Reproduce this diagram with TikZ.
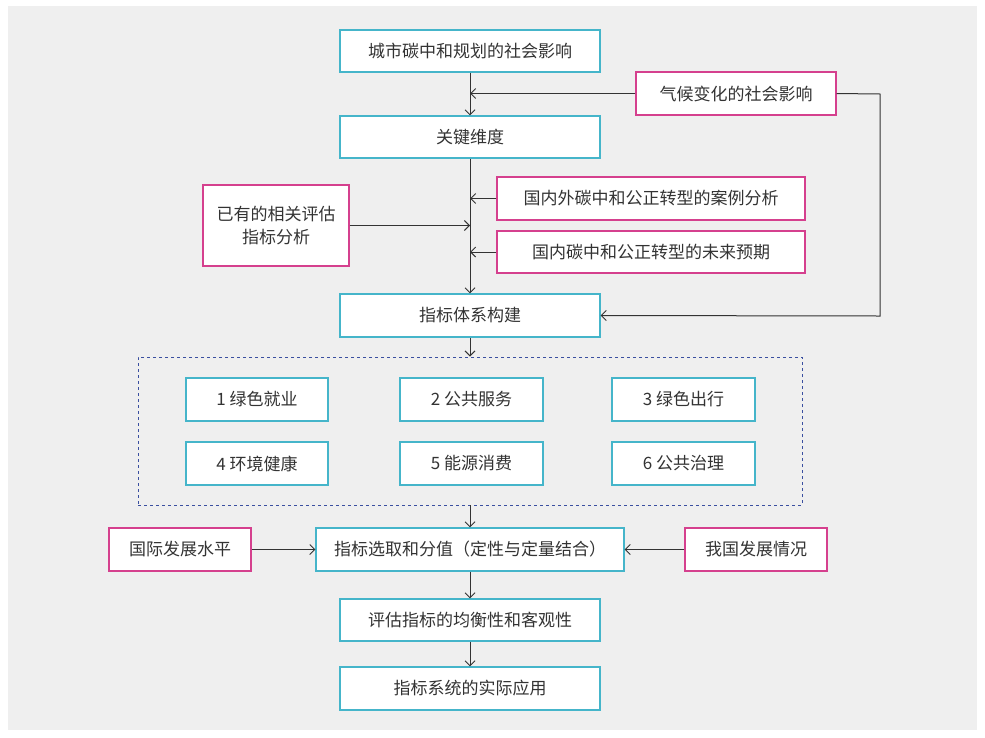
\documentclass[tikz,border=0pt]{standalone}
\usepackage{fontspec}
\setmainfont{Noto Sans CJK SC}
\usetikzlibrary{arrows.meta}
\definecolor{cy}{HTML}{45B5CA}
\definecolor{mg}{HTML}{D5408E}
\definecolor{bg}{HTML}{EFEFEF}
\definecolor{tx}{HTML}{333333}
\definecolor{dl}{HTML}{3A4FA0}
\begin{document}
\begin{tikzpicture}[x=1pt,y=-1pt,
 box/.style={draw=cy,fill=white,line width=1.1pt,text=tx,font=\fontsize{17}{20}\selectfont,inner sep=0pt,align=center},
 mbox/.style={box,draw=mg},
 ar/.style={-{Straight Barb[length=5pt,width=10pt]},line width=1pt,draw=tx}]
\useasboundingbox (0,0) rectangle (985,737);
\fill[white] (0,0) rectangle (985,737);
\fill[bg] (8,6) rectangle (977,730);
\newcommand{\bx}[6]{\node[#1,minimum width=#4-#3,minimum height=#6-#5] (#2) at ({(#3+#4)/2},{(#5+#6)/2})}
\bx{box}{a}{340}{600}{30}{72}{城市碳中和规划的社会影响};
\bx{mbox}{cl}{636}{836}{72}{115}{气候变化的社会影响};
\bx{box}{b}{340}{600}{116}{158}{关键维度};
\bx{mbox}{c1}{497}{805}{177}{220}{国内外碳中和公正转型的案例分析};
\bx{mbox}{c2}{497}{805}{231}{273}{国内碳中和公正转型的未来预期};
\bx{mbox}{ex}{203}{349}{185}{266}{已有的相关评估\\[3pt]指标分析};
\bx{box}{c}{340}{600}{294}{337}{指标体系构建};
\node[draw=dl,dashed,line width=0.8pt,minimum width=664,minimum height=148] (d) at (470,431) {};
\bx{box}{g1}{186}{328}{378}{421}{1 绿色就业};
\bx{box}{g2}{400}{543}{378}{421}{2 公共服务};
\bx{box}{g3}{612}{755}{378}{421}{3 绿色出行};
\bx{box}{g4}{186}{328}{442}{485}{4 环境健康};
\bx{box}{g5}{400}{543}{442}{485}{5 能源消费};
\bx{box}{g6}{612}{755}{442}{485}{6 公共治理};
\bx{mbox}{l}{109}{251}{528}{571}{国际发展水平};
\bx{box}{e}{316}{624}{528}{571}{指标选取和分值（定性与定量结合）};
\bx{mbox}{r}{685}{827}{528}{571}{我国发展情况};
\bx{box}{f}{340}{600}{599}{641}{评估指标的均衡性和客观性};
\bx{box}{h}{340}{600}{667}{710}{指标系统的实际应用};
\draw[ar] (a) -- (b);
\draw[ar] (cl.west) -- (cl.west -| a);
\draw[ar] (b) -- (c);
\draw[ar] (c1.west) -- (c1.west -| b);
\draw[ar] (c2.west) -- (c2.west -| b);
\draw[ar] (ex.east) -- (ex.east -| b);
\coordinate (k1) at (880,94);
\coordinate (k2) at (880,316);
\draw[ar] (cl.east) -- (k1) -- (k2) -- (c.east);
\draw[ar] (c) -- (d.north -| c);
\draw[ar] (d.south -| e) -- (e);
\draw[ar] (l) -- (e);
\draw[ar] (r) -- (e);
\draw[ar] (e) -- (f);
\draw[ar] (f) -- (h);
\end{tikzpicture}
\end{document}
